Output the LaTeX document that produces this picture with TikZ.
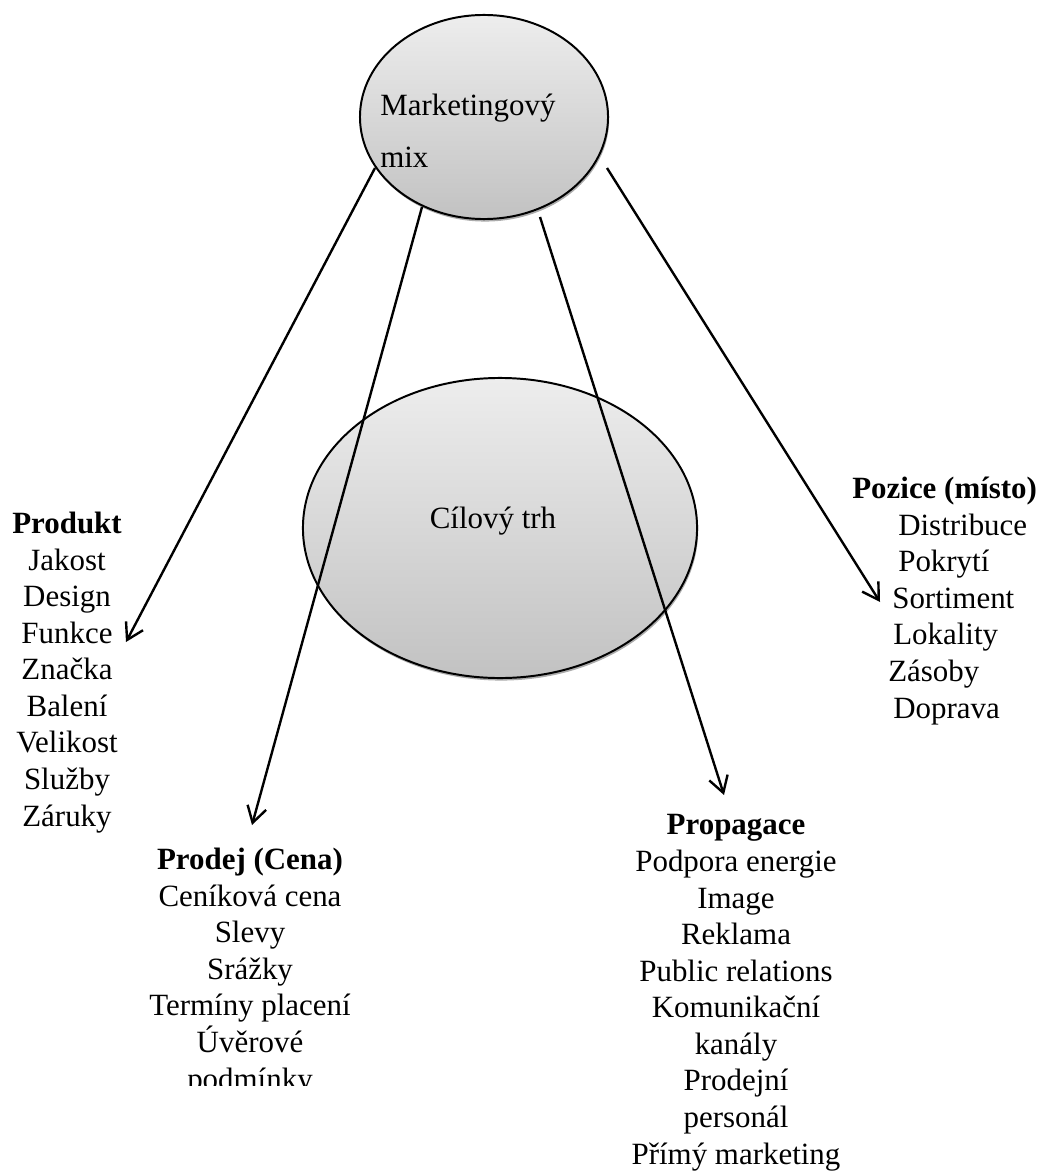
\documentclass[tikz,border=0pt]{standalone}
\usepackage{fontspec}
\setmainfont{Liberation Serif}
\usetikzlibrary{arrows.meta,shapes.geometric,shadows}
\definecolor{ovaltop}{gray}{0.93}
\definecolor{ovalbot}{gray}{0.76}

\begin{document}
\begin{tikzpicture}[
		x=0.025cm, y=-0.025cm,
		oval/.style={ellipse, draw, line width=1.4pt, inner sep=0pt,
			top color=ovaltop, bottom color=ovalbot,
			drop shadow={shadow xshift=0.8pt, shadow yshift=-1.8pt, fill=black!60, opacity=0.55}},
		txt/.style={font=\fontsize{22}{26}\selectfont, inner sep=0pt},
		block/.style={txt, align=center, anchor=base},
		link/.style={line width=1.7pt, -{Straight Barb[length=0.4cm,width=0.48cm]}},
	]
	\useasboundingbox (0,0) rectangle (1040,1175);

	% ---------- the two ovals ----------
	\node[oval, minimum width=6.2cm, minimum height=5.1cm] (mix) at (484,117) {};
	\node[txt, align=left, anchor=base west] (mixlbl) at (380,168) {Marketingový\\[0.41cm]mix};
	\node[oval, minimum width=9.85cm, minimum height=7.5cm] (trh) at (500,528) {};
	\node[txt, anchor=base] (trhlbl) at (493,528) {Cílový trh};

	% ---------- the four lists (placed by their last line) ----------
	\node[block] (produkt) at (67,826)
	{\textbf{Produkt}\\Jakost\\Design\\Funkce\\Značka\\Balení\\Velikost\\Služby\\Záruky};
	\begin{scope}
		\clip (0,0) rectangle (1040,1085);
		\node[block] (prodej) at (250,1089)
		{\textbf{Prodej (Cena)}\\Ceníková cena\\Slevy\\Srážky\\Termíny placení\\Úvěrové\\podmínky};
	\end{scope}
	\node[block] (propagace) at (736,1164)
	{\textbf{Propagace}\\Podpora energie\\Image\\Reklama\\Public relations\\Komunikační\\kanály\\Prodejní\\personál\\Přímý marketing};
	\node[txt, align=left, anchor=base west] (pozice) at (852,718)
	{\textbf{Pozice (místo)}\\\hspace*{1.15cm}Distribuce\\\hspace*{1.15cm}Pokrytí\\\hspace*{1.0cm}Sortiment\\
		\hspace*{1.025cm}Lokality\\\hspace*{0.9cm}Zásoby\\\hspace*{1.025cm}Doprava};

	% ---------- arrows ----------
	\coordinate (fromA) at (375,168);
	\coordinate (toA) at (126,642);
	\coordinate (fromB) at (422,207);
	\coordinate (toB) at (252,825);
	\coordinate (fromC) at (540,217);
	\coordinate (toC) at (724,795);
	\coordinate (fromD) at (607,168);
	\coordinate (toD) at (880,602);
	\draw[link] (fromA) -- (toA);
	\draw[link] (fromB) -- (toB);
	\draw[link] (fromC) -- (toC);
	\draw[link] (fromD) -- (toD);

\end{tikzpicture}
\end{document}
